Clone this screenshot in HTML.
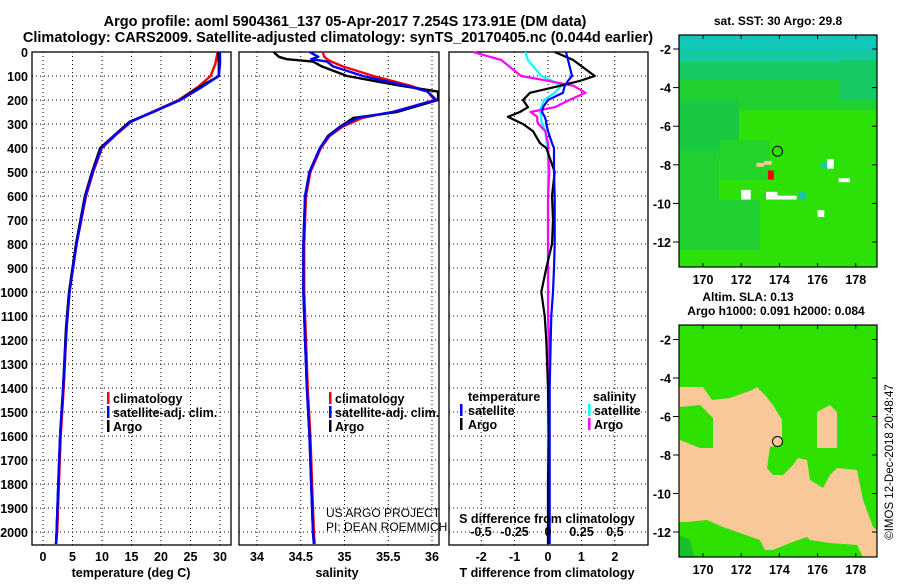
<!DOCTYPE html>
<html><head><meta charset="utf-8"><style>
html,body{margin:0;padding:0;background:#fff}
svg text{font-family:"Liberation Sans",Arial,sans-serif}
.b{font-weight:bold}
</style></head><body>
<svg id="s" width="900" height="580" xmlns="http://www.w3.org/2000/svg">
<text x="345" y="26" class="b" font-size="14.5" text-anchor="middle">Argo profile: aoml 5904361_137 05-Apr-2017 7.254S 173.91E (DM data)</text>
<text x="338" y="42" class="b" font-size="14.5" text-anchor="middle">Climatology: CARS2009. Satellite-adjusted climatology: synTS_20170405.nc (0.044d earlier)</text>
<text x="778" y="25" class="b" font-size="12" text-anchor="middle">sat. SST: 30 Argo: 29.8</text>
<text x="748" y="301" class="b" font-size="12" text-anchor="middle">Altim. SLA: 0.13</text>
<text x="776" y="315" class="b" font-size="12" text-anchor="middle">Argo h1000: 0.091 h2000: 0.084</text>
<text transform="translate(893,462) rotate(-90)" font-size="11.5" text-anchor="middle">©IMOS 12-Dec-2018 20:48:47</text>
<g id="g"></g>
</svg>
<script>
// ---- data ----
const depthTicks = [0,100,200,300,400,500,600,700,800,900,1000,1100,1200,1300,1400,1500,1600,1700,1800,1900,2000];
const tempTicks = [0,5,10,15,20,25,30];
const salTicks = [34,34.5,35,35.5,36];
const salTickLabels = ["34","34.5","35","35.5","36"];
const tdTicks = [-2,-1,0,1,2];
const sdTicks = [-0.5,-0.25,0,0.25,0.5];
const sdTickLabels = ["-0.5","-0.25","0","0.25","0.5"];

const depthT = [0,50,100,145,200,250,290,344,400,500,600,800,1000,1150,1400,1600,1800,2000,2050];
const argoT = [29.7,29.8,29.8,26.6,23.2,18.7,14.7,12.2,9.7,8.3,7.1,5.6,4.4,3.9,3.4,2.9,2.6,2.3,2.2];
const climT = [29.6,29.2,28.4,26.3,23.0,18.5,15.0,12.4,10.0,8.5,7.3,5.7,4.5,4.0,3.5,3.0,2.7,2.4,2.2];
const satT  = [30.0,30.0,29.8,27.0,23.3,18.6,14.9,12.3,9.9,8.4,7.2,5.7,4.5,4.0,3.4,2.9,2.6,2.3,2.2];

const depthS = [0,20,30,40,60,100,140,165,200,250,275,311,350,400,500,600,800,1000,1200,1400,1600,1800,2000,2050];
const argoS = [34.19,34.25,34.34,34.64,34.74,35.03,35.63,36.07,36.07,35.6,35.1,34.95,34.81,34.72,34.6,34.55,34.53,34.53,34.55,34.57,34.6,34.62,34.64,34.65];
const climS = [34.75,34.77,34.8,34.85,34.98,35.33,35.75,35.95,36.03,35.55,35.2,34.98,34.83,34.73,34.61,34.56,34.54,34.54,34.56,34.58,34.61,34.63,34.65,34.66];
const satS  = [34.6,34.7,34.62,34.8,34.87,35.21,35.7,35.95,36.05,35.55,35.15,34.96,34.82,34.72,34.6,34.55,34.53,34.53,34.55,34.57,34.6,34.62,34.64,34.65];

const depthD = [0,33,100,120,141,170,200,230,250,270,290,300,330,380,400,500,600,700,800,900,1000,1100,1200,1400,1600,1800,2000,2050];
const argoTd = [0.2,0.75,1.4,0.96,0.36,-0.54,-0.75,-0.6,-0.84,-1.2,-0.9,-0.75,-0.45,-0.24,-0.05,0.2,0.12,0.15,0.12,-0.05,-0.2,-0.1,-0.05,0,0.02,0,0,0];
const satTd  = [0.54,0.6,0.72,0.6,0.5,0.45,0.0,-0.15,-0.18,-0.1,-0.05,-0.05,0,0.12,0.18,0.18,0.2,0.2,0.2,0.18,0.15,0.1,0.08,0.05,0.05,0.05,0.05,0.05];
const argoSd = [-0.56,-0.35,-0.2,0.0,0.19,0.28,0.16,0.05,-0.13,-0.08,-0.08,-0.07,-0.02,0,0,0.01,0,0,0,0,0,0,0.01,0.01,0.01,0.01,0.01,0.01];
const satSd  = [-0.17,-0.15,-0.05,0.03,0.1,0.05,-0.03,-0.05,-0.06,-0.05,-0.05,-0.04,-0.02,-0.01,0,0,0,0,0,0,0,0,0,0,0,0,0,0];

const lonTicks = [170,172,174,176,178];
const latTicks = [-2,-4,-6,-8,-10,-12];
const argoPos = [173.9,-7.3];

// ---- helpers ----
const NS="http://www.w3.org/2000/svg";
const G=document.getElementById('g');
function mk(t,a,p){const e=document.createElementNS(NS,t);for(const k in a)e.setAttribute(k,a[k]);(p||G).appendChild(e);return e;}
const yD=d=>52+d*0.24;
const PB=545;
const xT=v=>43+v*(177/30);
const xS=v=>257+(v-34)*87.5;
const xTd=v=>548+v*33.4;
const xSd=v=>548+v*134;

function panel(x0,x1,name){
  const r=mk('rect',{x:x0,y:52,width:x1-x0,height:PB-52,fill:'none',stroke:'#000','stroke-width':1.3});
  
  
  depthTicks.forEach(d=>{
    const l=mk('line',{x1:x0,x2:x1,y1:yD(d),y2:yD(d),stroke:'#000','stroke-dasharray':'1,3'});
    
    
  });
}
function vgrid(xs,f,name){
  xs.forEach(v=>{
    const l=mk('line',{x1:f(v),x2:f(v),y1:52,y2:PB,stroke:'#000','stroke-dasharray':'1,3'});
    
    
  });
}
function xlabels(xs,labels,f,y,name){
  xs.forEach((v,i)=>{
    const t=mk('text',{x:f(v),y:y,'font-size':12.5,'text-anchor':'middle',class:'b'});
    t.textContent=labels?labels[i]:String(v);
    
    
  });
}
function line(ds,vs,f,color,name,w){
  const pts=ds.map((d,i)=>f(vs[i]).toFixed(1)+','+yD(d).toFixed(1)).join(' ');
  const p=mk('polyline',{points:pts,fill:'none',stroke:color,'stroke-width':w||2.4,'stroke-linejoin':'round'});
  
  
}
function txt(x,y,s,name,opt){
  const t=mk('text',Object.assign({x:x,y:y,'font-size':12.5,class:'b'},opt||{}));
  t.textContent=s;
  
  
  return t;
}
function legMark(x,y,c,name){
  const r=mk('rect',{x:x,y:y-11,width:2.5,height:12,fill:c});
  
  
}

// depth labels
depthTicks.forEach(d=>{
  const t=mk('text',{x:28,y:yD(d)+5,'font-size':12.5,'text-anchor':'end',class:'b'});
  t.textContent=String(d);
  
  
});

// Panel 1 temperature
panel(32,231,'temperature-panel');
vgrid(tempTicks,xT,'temperature-gridline');
xlabels(tempTicks,null,xT,561,'temperature-tick-label');
txt(131,577,'temperature (deg C)','temperature-axis-title',{'text-anchor':'middle'});
line(depthT,climT,xT,'#ff0000','temperature-climatology-line');
line(depthT,argoT,xT,'#000000','temperature-argo-line');
line(depthT,satT,xT,'#0000ff','temperature-satellite-line');
legMark(107,403,'#ff0000','legend-climatology-mark');txt(113,403,'climatology','legend-climatology');
legMark(107,417,'#0000ff','legend-satellite-mark');txt(113,417,'satellite-adj. clim.','legend-satellite');
legMark(107,431,'#000','legend-argo-mark');txt(113,431,'Argo','legend-argo');

// Panel 2 salinity
panel(239,439,'salinity-panel');
vgrid(salTicks,xS,'salinity-gridline');
xlabels(salTicks,salTickLabels,xS,561,'salinity-tick-label');
txt(337,577,'salinity','salinity-axis-title',{'text-anchor':'middle'});
line(depthS,climS,xS,'#ff0000','salinity-climatology-line');
line(depthS,argoS,xS,'#000000','salinity-argo-line');
line(depthS,satS,xS,'#0000ff','salinity-satellite-line');
legMark(329,403,'#ff0000','legend-climatology-mark');txt(335,403,'climatology','legend-climatology');
legMark(329,417,'#0000ff','legend-satellite-mark');txt(335,417,'satellite-adj. clim.','legend-satellite');
legMark(329,431,'#000','legend-argo-mark');txt(335,431,'Argo','legend-argo');
txt(326,517,'US ARGO PROJECT','project-credit',{class:'','font-size':12});
txt(326,531,'PI: DEAN ROEMMICH','pi-credit',{class:'','font-size':12});

// Panel 3 differences
panel(449,648,'difference-panel');
vgrid(tdTicks,xTd,'difference-gridline');
line(depthD,satSd,xSd,'#00ffff','salinity-satellite-diff-line',2.2);
line(depthD,argoSd,xSd,'#ff00ff','salinity-argo-diff-line',2.2);
line(depthD,argoTd,xTd,'#000000','temperature-argo-diff-line',2.2);
line(depthD,satTd,xTd,'#0000ff','temperature-satellite-diff-line',2.2);
xlabels(tdTicks,null,xTd,561,'t-diff-tick-label');
xlabels(sdTicks,sdTickLabels,xSd,536,'s-diff-tick-label');
txt(547,523,'S difference from climatology','s-diff-axis-title',{'text-anchor':'middle'});
txt(547,577,'T difference from climatology','t-diff-axis-title',{'text-anchor':'middle'});
txt(468,401,'temperature','legend-temperature-header');
legMark(460,415,'#0000ff','legend-t-satellite-mark');txt(468,415,'satellite','legend-t-satellite');
legMark(460,429,'#000','legend-t-argo-mark');txt(468,429,'Argo','legend-t-argo');
txt(593,401,'salinity','legend-salinity-header');
legMark(588,415,'#00ffff','legend-s-satellite-mark');txt(594,415,'satellite','legend-s-satellite');
legMark(588,429,'#ff00ff','legend-s-argo-mark');txt(594,429,'Argo','legend-s-argo');

// ---- maps ----
const xL=v=>703+(v-170)*19.1;
function mapFrame(top,bot,name,latToY){
  const r=mk('rect',{x:679,y:top,width:198,height:bot-top,fill:'none',stroke:'#000','stroke-width':1.2});
  
  
  lonTicks.forEach(v=>{
    mk('line',{x1:xL(v),x2:xL(v),y1:top,y2:top+4,stroke:'#000'});
    mk('line',{x1:xL(v),x2:xL(v),y1:bot,y2:bot-4,stroke:'#000'});
    txt(xL(v),bot+17,String(v),'longitude-tick-label',{'text-anchor':'middle'});
  });
  latTicks.forEach(v=>{
    const y=latToY(v);
    mk('line',{x1:673,x2:679,y1:y,y2:y,stroke:'#000'});
    mk('line',{x1:877,x2:872,y1:y,y2:y,stroke:'#000'});
    txt(671,y+5,String(v),'latitude-tick-label',{'text-anchor':'end'});
  });
}
// map 1: SST (colour bands)
const y1=v=>49+(-2-v)*19.3;
const bands=[[35,267,'#2ce008'],[35,110,'#20d030'],[35,80,'#18c860'],[35,62,'#14c8a0'],[35,50,'#10c8b8']];
bands.forEach(b=>{const r=mk('rect',{x:679,y:b[0],width:198,height:b[1]-b[0],fill:b[2]});});
const shades=[[679,100,60,60,'#18c840'],[679,150,40,100,'#20d030'],[700,200,60,50,'#20d030'],[840,60,37,40,'#18c860'],[720,140,50,40,'#22d428']];
shades.forEach(b=>{const r=mk('rect',{x:b[0],y:b[1],width:b[2],height:b[3],fill:b[4]});});
const patches=[[172.0,-9.8,0.5,0.5,'#fff'],[173.3,-9.8,0.6,0.4,'#fff'],[173.9,-9.8,1.0,0.2,'#fff'],[176.5,-8.2,0.35,0.5,'#fff'],[177.1,-8.9,0.6,0.2,'#fff'],[175.0,-9.8,0.4,0.4,'#18c8a8'],[172.8,-8.1,0.4,0.2,'#f8c898'],[173.2,-8.0,0.4,0.2,'#f8c898'],[176.0,-10.7,0.35,0.35,'#fff'],[176.2,-8.2,0.3,0.3,'#18c8a8']];
patches.forEach(p=>{const r=mk('rect',{x:xL(p[0]),y:y1(p[1]+p[3]),width:p[2]*19.1,height:p[3]*19.3,fill:p[4]});});
mk('rect',{x:xL(173.4),y:y1(-8.3),width:6,height:9,fill:'#ff0000'});
mk('circle',{cx:xL(argoPos[0]),cy:y1(argoPos[1]),r:5,fill:'none',stroke:'#000'});
mapFrame(35,267,'sst-map',y1);

// map 2: SLA
const y2=v=>378+(-4-v)*19.25;
mk('rect',{x:679,y:325,width:198,height:232,fill:'#2ee000'});
const peach='679,387 703,387 712,400 730,398 752,390 757,387 765,395 773,405 782,420 782,445 770,447 767,468 773,475 783,475 793,465 798,458 807,460 810,480 823,488 830,475 837,468 857,470 863,500 873,527 877,530 877,557 863,557 857,545 830,543 810,540 807,537 790,543 773,550 765,550 760,540 740,533 723,527 707,520 687,522 679,522';
const pp=mk('polygon',{points:peach,fill:'#f8c898'});


mk('polygon',{points:'680,407 700,405 713,418 713,448 700,448 680,440',fill:'#2ee000'});
mk('polygon',{points:'817,412 830,405 837,412 837,448 817,448',fill:'#f8c898'});
mk('polygon',{points:'679,535 690,540 694,557 679,557',fill:'#18c030'});
mk('circle',{cx:xL(argoPos[0]),cy:y2(argoPos[1]),r:5,fill:'none',stroke:'#000'});
mapFrame(325,557,'sla-map',y2);
</script>
</body></html>
